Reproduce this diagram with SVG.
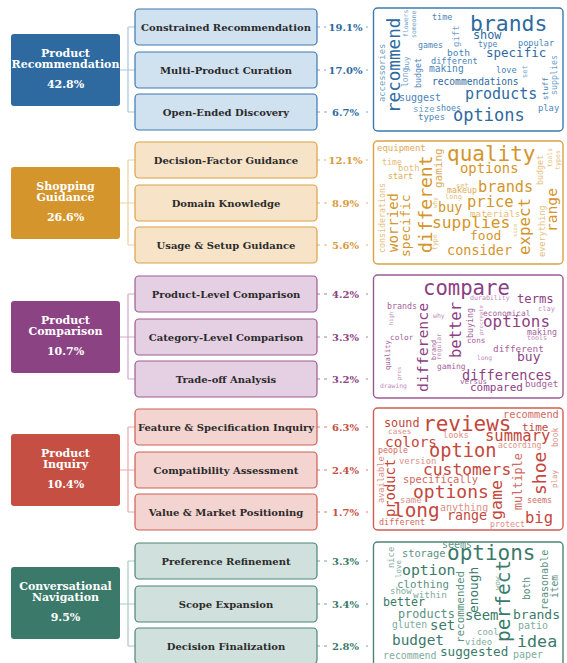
<svg xmlns="http://www.w3.org/2000/svg" width="567" height="663" viewBox="0 0 567 663">
<style>
.bg{fill:#ffffff}
.mt{font-family:"DejaVu Serif","Liberation Serif",serif;font-weight:bold;font-size:11px;fill:#ffffff;text-anchor:middle}
.sl{font-family:"DejaVu Serif","Liberation Serif",serif;font-weight:bold;font-size:10px;fill:#2b2b2b;text-anchor:middle}
.pc{font-family:"DejaVu Serif","Liberation Serif",serif;font-weight:bold;font-size:10px;text-anchor:middle}
.w{font-family:"DejaVu Sans Mono","Liberation Mono",monospace}
.con{fill:none;stroke-width:1.2}
.dash{fill:none;stroke-width:1;stroke-dasharray:3 4}
.cloud{fill:#ffffff;stroke-width:1.4}
.b1{fill:#2e6a9f}.b2{fill:#4a85bb}.b3{fill:#6f9fcb}
.o1{fill:#d4952c}.o2{fill:#deaa55}.o3{fill:#e6bd78}
.p1{fill:#8c3f83}.p2{fill:#a45f9b}.p3{fill:#bf8ab8}
.r1{fill:#c4473c}.r2{fill:#d26a60}.r3{fill:#de8f87}
.g1{fill:#3b7a6a}.g2{fill:#5a9181}.g3{fill:#80ab9e}
</style>
<rect class="bg" x="0" y="0" width="567" height="663"/>

<g id="connectors">
  <g stroke="#a8c5e0" class="con"><path d="M120 70H128M128 27V112M128 27H135M128 70H135M128 112H135"/></g>
  <g stroke="#7ea6cc" class="dash"><path d="M317 27H368M317 70H368M317 112H368"/></g>
  <g stroke="#efcf9c" class="con"><path d="M120 203H128M128 160V245M128 160H135M128 203H135M128 245H135"/></g>
  <g stroke="#e3b56a" class="dash"><path d="M317 160H368M317 203H368M317 245H368"/></g>
  <g stroke="#cfa9ca" class="con"><path d="M120 337H128M128 294V379M128 294H135M128 337H135M128 379H135"/></g>
  <g stroke="#b07aa8" class="dash"><path d="M317 294H368M317 337H368M317 379H368"/></g>
  <g stroke="#e8aaa3" class="con"><path d="M120 470H128M128 427V512M128 427H135M128 470H135M128 512H135"/></g>
  <g stroke="#d8837a" class="dash"><path d="M317 427H368M317 470H368M317 512H368"/></g>
  <g stroke="#a9c9c0" class="con"><path d="M120 604H128M128 561V646M128 561H135M128 604H135M128 646H135"/></g>
  <g stroke="#7aa597" class="dash"><path d="M317 561H368M317 604H368M317 646H368"/></g>
</g>

<!-- Group 1 -->
<g id="product-recommendation">
  <rect x="11" y="34" width="109" height="72" rx="3" fill="#2e6a9f"/>
  <text class="mt" x="65.5" y="56.5">Product</text>
  <text class="mt" x="65.5" y="67.5">Recommendation</text>
  <text class="mt" x="65.5" y="87.5">42.8%</text>
</g>
<g id="constrained-recommendation">
  <rect x="135" y="9" width="182" height="36" rx="4" fill="#d0e1f0" stroke="#3d79b0" stroke-width="1.2"/>
  <text class="sl" x="226" y="30.5">Constrained Recommendation</text>
  <rect x="326" y="20" width="39" height="14" fill="#fff"/>
  <text class="pc" x="345.5" y="30.5" fill="#2e6a9f">19.1%</text>
</g>
<g id="multi-product-curation">
  <rect x="135" y="52" width="182" height="36" rx="4" fill="#d0e1f0" stroke="#3d79b0" stroke-width="1.2"/>
  <text class="sl" x="226" y="73.5">Multi-Product Curation</text>
  <rect x="326" y="63" width="39" height="14" fill="#fff"/>
  <text class="pc" x="345.5" y="73.5" fill="#2e6a9f">17.0%</text>
</g>
<g id="open-ended-discovery">
  <rect x="135" y="94" width="182" height="36" rx="4" fill="#d0e1f0" stroke="#3d79b0" stroke-width="1.2"/>
  <text class="sl" x="226" y="115.5">Open-Ended Discovery</text>
  <rect x="330" y="105" width="32" height="14" fill="#fff"/>
  <text class="pc" x="345.5" y="115.5" fill="#2e6a9f">6.7%</text>
</g>
<g id="cloud-1">
  <rect class="cloud" x="373.5" y="8" width="189.5" height="123" rx="4" stroke="#3d79b0"/>
  <text class="w b1" x="470" y="31" font-size="21.4">brands</text>
  <text class="w b1" x="473" y="39" font-size="11.8">show</text>
  <text class="w b2" x="432" y="20" font-size="8.5">time</text>
  <text class="w b2" x="478" y="47" font-size="8">type</text>
  <text class="w b2" x="518" y="46" font-size="8.6">popular</text>
  <text class="w b2" x="418" y="48" font-size="8.3">games</text>
  <text class="w b2" x="447" y="56" font-size="9.5">both</text>
  <text class="w b1" x="486" y="57" font-size="12.5">specific</text>
  <text class="w b2" x="431" y="64" font-size="8.6">different</text>
  <text class="w b2" x="429" y="72" font-size="9.6">making</text>
  <text class="w b2" x="496" y="73" font-size="8.6">love</text>
  <text class="w b1" x="432" y="85" font-size="9.6">recommendations</text>
  <text class="w b1" x="465" y="99" font-size="15">products</text>
  <text class="w b2" x="399" y="101" font-size="10">suggest</text>
  <text class="w b3" x="413" y="112" font-size="9">size</text>
  <text class="w b2" x="436" y="111" font-size="8.3">shoes</text>
  <text class="w b2" x="538" y="111" font-size="8.8">play</text>
  <text class="w b2" x="418" y="120" font-size="9">types</text>
  <text class="w b1" x="453" y="121" font-size="17">options</text>
  <text class="w b1" font-size="17.6" transform="translate(400 113) rotate(-90)">recommend</text>
  <text class="w b3" font-size="8.8" transform="translate(385 102) rotate(-90)">accessories</text>
  <text class="w b3" font-size="8" transform="translate(408 87) rotate(-90)">long</text>
  <text class="w b3" font-size="7.5" transform="translate(409 70) rotate(-90)">buy</text>
  <text class="w b3" font-size="6.5" transform="translate(408 37) rotate(-90)">flowers</text>
  <text class="w b3" font-size="6.5" transform="translate(416 38) rotate(-90)">someone</text>
  <text class="w b2" font-size="8.3" transform="translate(421 88) rotate(-90)">budget</text>
  <text class="w b3" font-size="9" transform="translate(459 47) rotate(-90)">gift</text>
  <text class="w b3" font-size="7" transform="translate(527 78) rotate(-90)">set</text>
  <text class="w b2" font-size="7.6" transform="translate(548 100) rotate(-90)">stuff</text>
  <text class="w b3" font-size="8.3" transform="translate(557 95) rotate(-90)">supplies</text>
</g>

<!-- Group 2 -->
<g id="shopping-guidance">
  <rect x="11" y="167" width="109" height="72" rx="3" fill="#d4952c"/>
  <text class="mt" x="65.5" y="189.5">Shopping</text>
  <text class="mt" x="65.5" y="200.5">Guidance</text>
  <text class="mt" x="65.5" y="220.5">26.6%</text>
</g>
<g id="decision-factor-guidance">
  <rect x="135" y="142" width="182" height="36" rx="4" fill="#f7e4c8" stroke="#dda043" stroke-width="1.2"/>
  <text class="sl" x="226" y="163.5">Decision-Factor Guidance</text>
  <rect x="326" y="153" width="39" height="14" fill="#fff"/>
  <text class="pc" x="345.5" y="163.5" fill="#d89a3a">12.1%</text>
</g>
<g id="domain-knowledge">
  <rect x="135" y="185" width="182" height="36" rx="4" fill="#f7e4c8" stroke="#dda043" stroke-width="1.2"/>
  <text class="sl" x="226" y="206.5">Domain Knowledge</text>
  <rect x="330" y="196" width="32" height="14" fill="#fff"/>
  <text class="pc" x="345.5" y="206.5" fill="#d89a3a">8.9%</text>
</g>
<g id="usage-setup-guidance">
  <rect x="135" y="227" width="182" height="36" rx="4" fill="#f7e4c8" stroke="#dda043" stroke-width="1.2"/>
  <text class="sl" x="226" y="248.5">Usage &amp; Setup Guidance</text>
  <rect x="330" y="238" width="32" height="14" fill="#fff"/>
  <text class="pc" x="345.5" y="248.5" fill="#d89a3a">5.6%</text>
</g>
<g id="cloud-2">
  <rect class="cloud" x="373.5" y="141" width="189.5" height="123" rx="4" stroke="#dda043"/>
  <text class="w o2" x="377" y="151" font-size="9">equipment</text>
  <text class="w o1" x="447" y="161" font-size="21">quality</text>
  <text class="w o3" x="382" y="165" font-size="8.3">time</text>
  <text class="w o3" x="398" y="171" font-size="9">both</text>
  <text class="w o1" x="460" y="173" font-size="13.9">options</text>
  <text class="w o2" x="388" y="179" font-size="8.3">start</text>
  <text class="w o3" x="456" y="188" font-size="7">set</text>
  <text class="w o2" x="447" y="193" font-size="8.3">makeup</text>
  <text class="w o1" x="478" y="192" font-size="15.3">brands</text>
  <text class="w o3" x="445" y="199" font-size="7">long</text>
  <text class="w o1" x="467" y="207" font-size="15.5">price</text>
  <text class="w o1" x="438" y="212" font-size="13.5">buy</text>
  <text class="w o3" x="470" y="217" font-size="9.3">materials</text>
  <text class="w o1" x="432" y="228" font-size="16.3">supplies</text>
  <text class="w o1" x="470" y="240" font-size="13">food</text>
  <text class="w o1" x="447" y="255" font-size="13.5">consider</text>
  <text class="w o1" font-size="18" transform="translate(432 253) rotate(-90)">different</text>
  <text class="w o1" font-size="14" transform="translate(398 252) rotate(-90)">worried</text>
  <text class="w o1" font-size="13" transform="translate(410 257) rotate(-90)">specific</text>
  <text class="w o3" font-size="8.3" transform="translate(385 253) rotate(-90)">considerations</text>
  <text class="w o2" font-size="11" transform="translate(442 188) rotate(-90)">gaming</text>
  <text class="w o3" font-size="6" transform="translate(437 208) rotate(-90)">why</text>
  <text class="w o3" font-size="6.5" transform="translate(437 250) rotate(-90)">type</text>
  <text class="w o1" font-size="15.8" transform="translate(530 255) rotate(-90)">expect</text>
  <text class="w o1" font-size="14.6" transform="translate(557 232) rotate(-90)">range</text>
  <text class="w o3" font-size="8.3" transform="translate(543 185) rotate(-90)">budget</text>
  <text class="w o3" font-size="6.3" transform="translate(552 167) rotate(-90)">tools</text>
  <text class="w o3" font-size="6.6" transform="translate(560 170) rotate(-90)">types</text>
  <text class="w o3" font-size="5.5" transform="translate(517 237) rotate(-90)">size</text>
  <text class="w o3" font-size="8.6" transform="translate(545 257) rotate(-90)">everything</text>
</g>

<!-- Group 3 -->
<g id="product-comparison">
  <rect x="11" y="301" width="109" height="72" rx="3" fill="#8c4383"/>
  <text class="mt" x="65.5" y="323.5">Product</text>
  <text class="mt" x="65.5" y="334.5">Comparison</text>
  <text class="mt" x="65.5" y="354.5">10.7%</text>
</g>
<g id="product-level-comparison">
  <rect x="135" y="276" width="182" height="36" rx="4" fill="#e5d0e3" stroke="#9d5b93" stroke-width="1.2"/>
  <text class="sl" x="226" y="297.5">Product-Level Comparison</text>
  <rect x="330" y="287" width="32" height="14" fill="#fff"/>
  <text class="pc" x="345.5" y="297.5" fill="#8c4383">4.2%</text>
</g>
<g id="category-level-comparison">
  <rect x="135" y="319" width="182" height="36" rx="4" fill="#e5d0e3" stroke="#9d5b93" stroke-width="1.2"/>
  <text class="sl" x="226" y="340.5">Category-Level Comparison</text>
  <rect x="330" y="330" width="32" height="14" fill="#fff"/>
  <text class="pc" x="345.5" y="340.5" fill="#8c4383">3.3%</text>
</g>
<g id="trade-off-analysis">
  <rect x="135" y="361" width="182" height="36" rx="4" fill="#e5d0e3" stroke="#9d5b93" stroke-width="1.2"/>
  <text class="sl" x="226" y="382.5">Trade-off Analysis</text>
  <rect x="330" y="372" width="32" height="14" fill="#fff"/>
  <text class="pc" x="345.5" y="382.5" fill="#8c4383">3.2%</text>
</g>
<g id="cloud-3">
  <rect class="cloud" x="373.5" y="275" width="189.5" height="123" rx="4" stroke="#9d5b93"/>
  <text class="w p1" x="423" y="295" font-size="20.6">compare</text>
  <text class="w p3" x="470" y="300" font-size="6.6">durability</text>
  <text class="w p1" x="517" y="303" font-size="12.2">terms</text>
  <text class="w p2" x="387" y="309" font-size="8.3">brands</text>
  <text class="w p3" x="538" y="311" font-size="7">clay</text>
  <text class="w p2" x="483" y="316" font-size="7.9">economical</text>
  <text class="w p3" x="433" y="318" font-size="6.5">why</text>
  <text class="w p1" x="483" y="327" font-size="15.9">options</text>
  <text class="w p2" x="527" y="335" font-size="8.3">making</text>
  <text class="w p3" x="527" y="340" font-size="6.7">tools</text>
  <text class="w p2" x="390" y="340" font-size="7.8">color</text>
  <text class="w p2" x="467" y="343" font-size="7.6">cons</text>
  <text class="w p2" x="493" y="352" font-size="9.4">different</text>
  <text class="w p3" x="477" y="360" font-size="6.3">long</text>
  <text class="w p1" x="517" y="361" font-size="13">buy</text>
  <text class="w p2" x="437" y="369" font-size="7.9">gaming</text>
  <text class="w p1" x="462" y="380" font-size="13.6">differences</text>
  <text class="w p2" x="460" y="384" font-size="7.5">versus</text>
  <text class="w p1" x="470" y="391" font-size="11">compared</text>
  <text class="w p2" x="525" y="387" font-size="9.2">budget</text>
  <text class="w p3" x="380" y="388" font-size="6.4">drawing</text>
  <text class="w p1" font-size="14.8" transform="translate(428 392) rotate(-90)">difference</text>
  <text class="w p1" font-size="15.5" transform="translate(461 358) rotate(-90)">better</text>
  <text class="w p2" font-size="8.3" transform="translate(473 338) rotate(-90)">buying</text>
  <text class="w p3" font-size="5.5" transform="translate(483 335) rotate(-90)">procreate</text>
  <text class="w p3" font-size="5.5" transform="translate(393 325) rotate(-90)">high</text>
  <text class="w p2" font-size="7.1" transform="translate(390 370) rotate(-90)">quality</text>
  <text class="w p3" font-size="5.5" transform="translate(401 380) rotate(-90)">pros</text>
  <text class="w p2" font-size="6.7" transform="translate(436 360) rotate(-90)">brand</text>
  <text class="w p3" font-size="6.4" transform="translate(441 360) rotate(-90)">regular</text>
</g>

<!-- Group 4 -->
<g id="product-inquiry">
  <rect x="11" y="434" width="109" height="72" rx="3" fill="#c44f42"/>
  <text class="mt" x="65.5" y="456.5">Product</text>
  <text class="mt" x="65.5" y="467.5">Inquiry</text>
  <text class="mt" x="65.5" y="487.5">10.4%</text>
</g>
<g id="feature-specification-inquiry">
  <rect x="135" y="409" width="182" height="36" rx="4" fill="#f4d4d0" stroke="#cf5e51" stroke-width="1.2"/>
  <text class="sl" x="226" y="430.5">Feature &amp; Specification Inquiry</text>
  <rect x="330" y="420" width="32" height="14" fill="#fff"/>
  <text class="pc" x="345.5" y="430.5" fill="#c44f42">6.3%</text>
</g>
<g id="compatibility-assessment">
  <rect x="135" y="452" width="182" height="36" rx="4" fill="#f4d4d0" stroke="#cf5e51" stroke-width="1.2"/>
  <text class="sl" x="226" y="473.5">Compatibility Assessment</text>
  <rect x="330" y="463" width="32" height="14" fill="#fff"/>
  <text class="pc" x="345.5" y="473.5" fill="#c44f42">2.4%</text>
</g>
<g id="value-market-positioning">
  <rect x="135" y="494" width="182" height="36" rx="4" fill="#f4d4d0" stroke="#cf5e51" stroke-width="1.2"/>
  <text class="sl" x="226" y="515.5">Value &amp; Market Positioning</text>
  <rect x="330" y="505" width="32" height="14" fill="#fff"/>
  <text class="pc" x="345.5" y="515.5" fill="#c44f42">1.7%</text>
</g>
<g id="cloud-4">
  <rect class="cloud" x="373.5" y="408" width="189.5" height="122" rx="4" stroke="#cf5e51"/>
  <text class="w r2" x="503" y="418" font-size="10.3">recommend</text>
  <text class="w r1" x="384" y="427" font-size="11.8">sound</text>
  <text class="w r1" x="423" y="431" font-size="21">reviews</text>
  <text class="w r1" x="522" y="431" font-size="11">time</text>
  <text class="w r3" x="388" y="434" font-size="7.8">cases</text>
  <text class="w r3" x="443" y="438" font-size="8.6">looks</text>
  <text class="w r1" x="485" y="441" font-size="15.5">summary</text>
  <text class="w r1" x="385" y="447" font-size="14.4">colors</text>
  <text class="w r3" x="498" y="448" font-size="8">according</text>
  <text class="w r2" x="378" y="453" font-size="8.3">people</text>
  <text class="w r1" x="429" y="457" font-size="18.7">option</text>
  <text class="w r3" x="399" y="464" font-size="8.9">version</text>
  <text class="w r1" x="423" y="475" font-size="16.3">customers</text>
  <text class="w r2" x="403" y="483" font-size="10.4">specifically</text>
  <text class="w r1" x="413" y="498" font-size="18">options</text>
  <text class="w r3" x="400" y="503" font-size="9">same</text>
  <text class="w r2" x="527" y="503" font-size="8.3">seems</text>
  <text class="w r3" x="440" y="511" font-size="10">anything</text>
  <text class="w r1" x="393" y="517" font-size="19.4">long</text>
  <text class="w r1" x="447" y="520" font-size="13.3">range</text>
  <text class="w r1" x="525" y="523" font-size="15.5">big</text>
  <text class="w r2" x="379" y="525" font-size="8.5">different</text>
  <text class="w r3" x="490" y="527" font-size="8.3">protect</text>
  <text class="w r1" font-size="13.8" transform="translate(395 517) rotate(-90)">product</text>
  <text class="w r3" font-size="8.6" transform="translate(384 503) rotate(-90)">available</text>
  <text class="w r1" font-size="16.6" transform="translate(502 520) rotate(-90)">game</text>
  <text class="w r2" font-size="11.8" transform="translate(522 510) rotate(-90)">multiple</text>
  <text class="w r1" font-size="18" transform="translate(546 495) rotate(-90)">shoe</text>
  <text class="w r3" font-size="8" transform="translate(558 447) rotate(-90)">book</text>
  <text class="w r3" font-size="7.5" transform="translate(557 488) rotate(-90)">play</text>
</g>

<!-- Group 5 -->
<g id="conversational-navigation">
  <rect x="11" y="567" width="109" height="72" rx="3" fill="#3b7a6a"/>
  <text class="mt" x="65.5" y="589.5">Conversational</text>
  <text class="mt" x="65.5" y="600.5">Navigation</text>
  <text class="mt" x="65.5" y="620.5">9.5%</text>
</g>
<g id="preference-refinement">
  <rect x="135" y="543" width="182" height="36" rx="4" fill="#d0e1dd" stroke="#4d8576" stroke-width="1.2"/>
  <text class="sl" x="226" y="564.5">Preference Refinement</text>
  <rect x="330" y="554" width="32" height="14" fill="#fff"/>
  <text class="pc" x="345.5" y="564.5" fill="#3b7a6a">3.3%</text>
</g>
<g id="scope-expansion">
  <rect x="135" y="586" width="182" height="36" rx="4" fill="#d0e1dd" stroke="#4d8576" stroke-width="1.2"/>
  <text class="sl" x="226" y="607.5">Scope Expansion</text>
  <rect x="330" y="597" width="32" height="14" fill="#fff"/>
  <text class="pc" x="345.5" y="607.5" fill="#3b7a6a">3.4%</text>
</g>
<g id="decision-finalization">
  <rect x="135" y="628" width="182" height="36" rx="4" fill="#d0e1dd" stroke="#4d8576" stroke-width="1.2"/>
  <text class="sl" x="226" y="649.5">Decision Finalization</text>
  <rect x="330" y="639" width="32" height="14" fill="#fff"/>
  <text class="pc" x="345.5" y="649.5" fill="#3b7a6a">2.8%</text>
</g>
<g id="cloud-5">
  <rect class="cloud" x="373.5" y="542" width="189.5" height="124" rx="4" stroke="#4d8576"/>
  <text class="w g2" x="442" y="548" font-size="10">seems</text>
  <text class="w g1" x="447" y="560" font-size="21">options</text>
  <text class="w g2" x="402" y="557" font-size="10.3">storage</text>
  <text class="w g1" x="402" y="575" font-size="14.8">option</text>
  <text class="w g2" x="397" y="588" font-size="10.8">clothing</text>
  <text class="w g3" x="390" y="594" font-size="9">show</text>
  <text class="w g3" x="413" y="598" font-size="9.4">within</text>
  <text class="w g1" x="383" y="606" font-size="11.6">better</text>
  <text class="w g2" x="398" y="618" font-size="11.8">products</text>
  <text class="w g1" x="465" y="620" font-size="13.9">seem</text>
  <text class="w g1" x="513" y="619" font-size="13">brands</text>
  <text class="w g3" x="392" y="628" font-size="9.7">gluten</text>
  <text class="w g1" x="430" y="630" font-size="14">set</text>
  <text class="w g3" x="518" y="629" font-size="10">patio</text>
  <text class="w g3" x="477" y="635" font-size="9">cool</text>
  <text class="w g1" x="392" y="645" font-size="14.4">budget</text>
  <text class="w g3" x="465" y="645" font-size="9">video</text>
  <text class="w g1" x="517" y="647" font-size="16.7">idea</text>
  <text class="w g1" x="440" y="656" font-size="12.6">suggested</text>
  <text class="w g3" x="383" y="659" font-size="9.9">recommend</text>
  <text class="w g3" x="513" y="658" font-size="10">paper</text>
  <text class="w g3" font-size="8.8" transform="translate(394 568) rotate(-90)">nice</text>
  <text class="w g3" font-size="7.5" transform="translate(401 578) rotate(-90)">love</text>
  <text class="w g2" font-size="10.9" transform="translate(464 643) rotate(-90)">recommended</text>
  <text class="w g1" font-size="12.8" transform="translate(478 613) rotate(-90)">enough</text>
  <text class="w g1" font-size="19.5" transform="translate(510 642) rotate(-90)">perfect</text>
  <text class="w g3" font-size="7.5" transform="translate(500 590) rotate(-90)">wow</text>
  <text class="w g2" font-size="9.6" transform="translate(530 600) rotate(-90)">both</text>
  <text class="w g2" font-size="10" transform="translate(548 610) rotate(-90)">reasonable</text>
  <text class="w g2" font-size="9.6" transform="translate(558 598) rotate(-90)">item</text>
</g>
</svg>
